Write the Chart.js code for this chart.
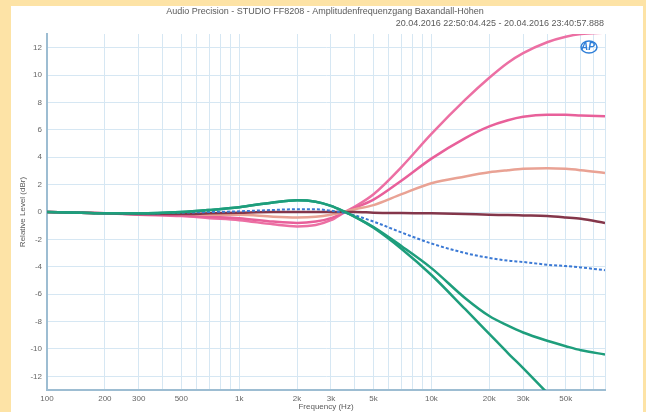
<!DOCTYPE html>
<html>
<head>
<meta charset="utf-8">
<script src="https://cdn.jsdelivr.net/npm/chart.js@4.4.1/dist/chart.umd.min.js"></script>
<style>
  html, body { margin: 0; padding: 0; background: #fde3a6; }
  #wrap { position: relative; width: 646px; height: 412px; }
  canvas { display: block; }
</style>
</head>
<body>
<div id="wrap"><canvas id="c" width="646" height="412"></canvas></div>
<script>
// ---- data ----
const titleLine1 = "Audio Precision - STUDIO FF8208 - Amplitudenfrequenzgang Baxandall-Höhen";
const titleLine2 = "20.04.2016 22:50:04.425 - 20.04.2016 23:40:57.888";
const xAxisTitle = "Frequency (Hz)";
const yAxisTitle = "Relative Level (dBr)";

const freqs = [100, 150, 200, 300, 500, 700, 1000, 1500, 2000, 2500, 3000, 3500, 4000, 5000, 7000, 10000, 15000, 20000, 25000, 30000, 40000, 50000, 60000, 80000];

const pinkHigh  = [0, -0.05, -0.1, -0.2, -0.3, -0.45, -0.6, -0.9, -1.05, -0.95, -0.6, -0.05, 0.4, 1.3, 3.3, 5.7, 8.2, 9.8, 10.9, 11.6, 12.4, 12.8, 13.0, 13.1];
const pinkMid   = [0, -0.05, -0.1, -0.15, -0.25, -0.35, -0.45, -0.7, -0.8, -0.7, -0.45, -0.05, 0.3, 0.9, 2.3, 3.9, 5.4, 6.25, 6.7, 6.95, 7.1, 7.1, 7.05, 7.0];
const salmon    = [0, -0.05, -0.1, -0.1, -0.15, -0.2, -0.2, -0.35, -0.4, -0.35, -0.2, 0, 0.2, 0.5, 1.3, 2.1, 2.6, 2.9, 3.05, 3.15, 3.2, 3.15, 3.05, 2.85];
const flat      = [0, -0.05, -0.1, -0.15, -0.15, -0.1, -0.05, 0, 0, 0, 0, 0, 0, -0.05, -0.08, -0.1, -0.15, -0.2, -0.22, -0.25, -0.3, -0.4, -0.5, -0.8];
const blueCut   = [0, -0.05, -0.1, -0.1, -0.05, 0, 0.05, 0.15, 0.2, 0.2, 0.1, -0.05, -0.25, -0.7, -1.5, -2.3, -3.0, -3.35, -3.55, -3.65, -3.85, -3.95, -4.05, -4.25];
const greenCut  = [0, -0.05, -0.1, -0.1, 0, 0.15, 0.35, 0.7, 0.85, 0.75, 0.45, 0.05, -0.35, -1.1, -2.5, -4.1, -6.3, -7.6, -8.3, -8.8, -9.4, -9.8, -10.1, -10.4];
const greenDeep = [0, -0.05, -0.1, -0.1, 0, 0.15, 0.35, 0.7, 0.85, 0.75, 0.45, 0.05, -0.35, -1.15, -2.7, -4.6, -7.1, -8.9, -10.3, -11.4, -13.2, -14.5, -15.5, -17];

const xLabelValues = [100, 200, 300, 500, 1000, 2000, 3000, 5000, 10000, 20000, 30000, 50000];
const xLabelTexts  = ["100", "200", "300", "500", "1k", "2k", "3k", "5k", "10k", "20k", "30k", "50k"];
const yTicks = [12, 10, 8, 6, 4, 2, 0, -2, -4, -6, -8, -10, -12];

// ---- chart ----
const pts = arr => arr.map((v, i) => ({ x: freqs[i], y: v }));
const ds = (arr, color, w, dash) => ({
  data: pts(arr), borderColor: color, borderWidth: w, borderDash: dash || [],
  pointRadius: 0, fill: false, cubicInterpolationMode: 'monotone'
});

const decor = {
  id: 'decor',
  beforeDraw(chart) {
    const ctx = chart.ctx;
    ctx.save();
    ctx.fillStyle = '#fde3a6';
    ctx.fillRect(0, 0, 646, 412);
    ctx.fillStyle = '#ffffff';
    ctx.fillRect(11, 6, 632, 406);
    ctx.restore();
  },
  afterDraw(chart) {
    const ctx = chart.ctx;
    const a = chart.chartArea;
    ctx.save();
    ctx.fillStyle = '#5a5a5a';
    ctx.font = '9px "Liberation Sans", Arial, sans-serif';
    ctx.textBaseline = 'middle';
    ctx.textAlign = 'center';
    ctx.fillText(titleLine1, 325, 12);
    ctx.textAlign = 'right';
    ctx.fillText(titleLine2, 604, 24);
    ctx.font = '8px "Liberation Sans", Arial, sans-serif';
    ctx.textAlign = 'center';
    ctx.fillText(xAxisTitle, (a.left + a.right) / 2 + 0, 407);
    ctx.translate(23, (a.top + a.bottom) / 2);
    ctx.rotate(-Math.PI / 2);
    ctx.fillText(yAxisTitle, 0, 0);
    ctx.restore();
    // AP logo
    ctx.save();
    ctx.strokeStyle = '#2f7fd8';
    ctx.lineWidth = 1.5;
    ctx.beginPath();
    ctx.ellipse(589, 47, 8, 6, 0, 0, Math.PI * 2);
    ctx.stroke();
    ctx.fillStyle = '#2f7fd8';
    ctx.font = 'italic bold 10px "Liberation Sans", Arial, sans-serif';
    ctx.textAlign = 'center';
    ctx.textBaseline = 'middle';
    ctx.fillText('AP', 588, 47);
    ctx.restore();
  }
};

new Chart(document.getElementById('c'), {
  type: 'line',
  data: {
    datasets: [
      ds(greenDeep, '#1e9e7c', 2.5),
      ds(greenCut, '#1e9e7c', 2.5),
      ds(blueCut, '#3b79d4', 2, [3, 2]),
      ds(flat, '#84364a', 2.5),
      ds(salmon, '#e9a294', 2.5),
      ds(pinkMid, '#e8609a', 2.5),
      ds(pinkHigh, '#ec6fa3', 2.5)
    ]
  },
  options: {
    responsive: false,
    animation: false,
    events: [],
    layout: { padding: { left: 0, right: 41, top: 34, bottom: 0 } },
    plugins: { legend: { display: false }, tooltip: { enabled: false }, title: { display: false } },
    scales: {
      x: {
        type: 'logarithmic',
        min: 100, max: 80000,
        afterFit: s => { s.height = 22; },
        afterBuildTicks: s => {
          const t = [];
          for (let d = 100; d < 100000; d *= 10) {
            for (let m = 1; m <= 9; m++) {
              const v = m * d;
              if (v >= 100 && v <= 80000) t.push({ value: v });
            }
          }
          s.ticks = t;
        },
        grid: { color: '#d6e7f3', lineWidth: 1, drawTicks: false },
        border: { color: '#9dbdd2', width: 2 },
        ticks: {
          autoSkip: false, maxRotation: 0, padding: 4,
          color: '#666', font: { size: 8, family: '"Liberation Sans", Arial, sans-serif' },
          callback: v => { const i = xLabelValues.indexOf(v); return i >= 0 ? xLabelTexts[i] : ''; }
        }
      },
      y: {
        min: -13, max: 13,
        afterFit: s => { s.width = 47; },
        afterBuildTicks: s => { s.ticks = yTicks.map(v => ({ value: v })); },
        grid: { color: '#d6e7f3', lineWidth: 1, drawTicks: false },
        border: { color: '#9dbdd2', width: 2 },
        ticks: {
          padding: 5, color: '#666',
          font: { size: 8, family: '"Liberation Sans", Arial, sans-serif' }
        }
      }
    }
  },
  plugins: [decor]
});
</script>
</body>
</html>
